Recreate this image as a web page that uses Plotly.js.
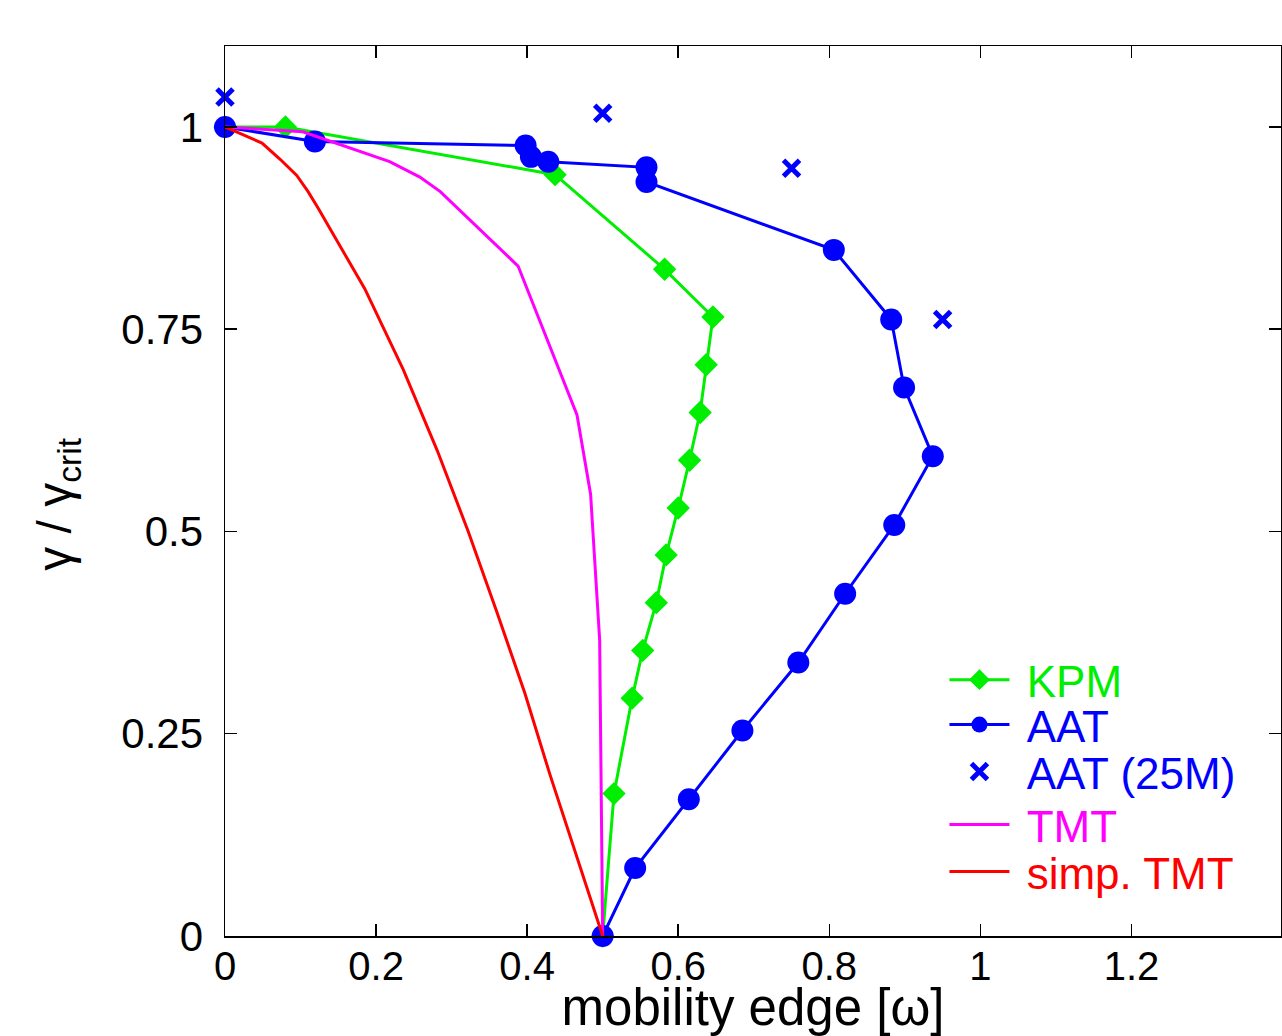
<!DOCTYPE html>
<html>
<head>
<meta charset="utf-8">
<script src="https://cdn.plot.ly/plotly-3.0.1.min.js"></script>
<style>html,body{margin:0;padding:0;background:#fff;overflow:hidden}#chart{width:1282px;height:1036px}</style>
</head>
<body>
<div id="chart"></div>
<script>
// KPM
var kpmX = [0, 0.08, 0.437, 0.582, 0.646, 0.637, 0.629, 0.615, 0.600, 0.584, 0.571, 0.553, 0.539, 0.515, 0.5];
var kpmY = [1, 1.0, 0.941, 0.824, 0.765, 0.706, 0.647, 0.588, 0.529, 0.471, 0.412, 0.353, 0.294, 0.176, 0];
// AAT
var aatX = [0, 0.119, 0.398, 0.405, 0.428, 0.558, 0.558, 0.806, 0.882, 0.899, 0.937, 0.886, 0.821, 0.759, 0.685, 0.614, 0.543, 0.5];
var aatY = [1, 0.982, 0.977, 0.963, 0.957, 0.950, 0.932, 0.848, 0.762, 0.678, 0.593, 0.508, 0.423, 0.338, 0.254, 0.169, 0.084, 0];
// AAT (25M)
var aat25X = [0, 0.5, 0.75, 0.95];
var aat25Y = [1.037, 1.017, 0.949, 0.762];
// TMT
var tmtX = [0, 0.103, 0.218, 0.258, 0.285, 0.388, 0.466, 0.484, 0.496, 0.5];
var tmtY = [1, 0.994, 0.957, 0.938, 0.920, 0.828, 0.644, 0.546, 0.366, 0];
// simp. TMT
var simpX = [0, 0.049, 0.073, 0.095, 0.110, 0.123, 0.185, 0.236, 0.281, 0.322, 0.360, 0.397, 0.430, 0.465, 0.5];
var simpY = [1, 0.98, 0.96, 0.94, 0.92, 0.90, 0.80, 0.70, 0.60, 0.50, 0.40, 0.30, 0.20, 0.10, 0];

var seriesNames = ['KPM', 'AAT', 'AAT (25M)', 'TMT', 'simp. TMT'];
var xTicks = [0, 0.2, 0.4, 0.6, 0.8, 1, 1.2];
var yTicks = [0, 0.25, 0.5, 0.75, 1];

var GREEN = '#00ee00', BLUE = '#0000ff', MAG = '#ff00ff', RED = '#ff0000';
var FONT = 'Liberation Sans, Arial, Helvetica, sans-serif';

function nm(i, c) { return '&nbsp;<span style="color:' + c + '">' + seriesNames[i] + '</span>'; }

var traces = [
  {x: kpmX, y: kpmY, mode: 'lines+markers', name: nm(0, GREEN), legend: 'legend',
   line: {color: GREEN, width: 3}, marker: {symbol: 'diamond', size: 18, color: GREEN}, cliponaxis: false},
  {x: aatX, y: aatY, mode: 'lines+markers', name: nm(1, BLUE), legend: 'legend2',
   line: {color: BLUE, width: 3}, marker: {symbol: 'circle', size: 22, color: BLUE}, cliponaxis: false},
  {x: aat25X, y: aat25Y, mode: 'markers', name: nm(2, BLUE), legend: 'legend3',
   marker: {symbol: 'x-thin-open', size: 16, color: BLUE, line: {color: BLUE, width: 5}}, cliponaxis: false},
  {x: tmtX, y: tmtY, mode: 'lines', name: nm(3, MAG), legend: 'legend4',
   line: {color: MAG, width: 3}, cliponaxis: false},
  {x: simpX, y: simpY, mode: 'lines', name: nm(4, RED), legend: 'legend5',
   line: {color: RED, width: 3}, cliponaxis: false}
];

var axisCommon = {
  showgrid: false, zeroline: false, showline: true, linecolor: '#000', linewidth: 1.5,
  mirror: 'ticks', ticks: 'inside', ticklen: 12, tickwidth: 1.5, tickcolor: '#000'
};

function leg(yc) {
  return {x: 0.6813, y: yc, xanchor: 'left', yanchor: 'middle', bgcolor: 'rgba(0,0,0,0)',
          font: {family: FONT, size: 44, color: '#000'}, itemwidth: 60};
}

var layout = {
  width: 1282, height: 1036,
  margin: {l: 225, r: 1, t: 46, b: 100},
  paper_bgcolor: '#fff', plot_bgcolor: '#fff',
  showlegend: true,
  legend: leg(0.2876),
  legend2: leg(0.2371),
  legend3: leg(0.1843),
  legend4: leg(0.1247),
  legend5: leg(0.0719),
  xaxis: Object.assign({}, axisCommon, {
    range: [0, 1.398], tickmode: 'array', tickvals: xTicks, ticklabelstandoff: -6,
    tickfont: {family: FONT, size: 40, color: '#000'},
    title: {text: 'mobility edge [ω]', font: {family: FONT, size: 51, color: '#000'}, standoff: 37}
  }),
  yaxis: Object.assign({}, axisCommon, {
    range: [0, 1.1], tickmode: 'array', tickvals: yTicks, ticklabelstandoff: 12,
    tickfont: {family: FONT, size: 42, color: '#000'},
    title: {text: 'γ / γ<sub>crit</sub>&nbsp;&nbsp;', font: {family: FONT, size: 48, color: '#000'}, standoff: 34}
  })
};

Plotly.newPlot('chart', traces, layout, {displayModeBar: false, staticPlot: true});
</script>
</body>
</html>
